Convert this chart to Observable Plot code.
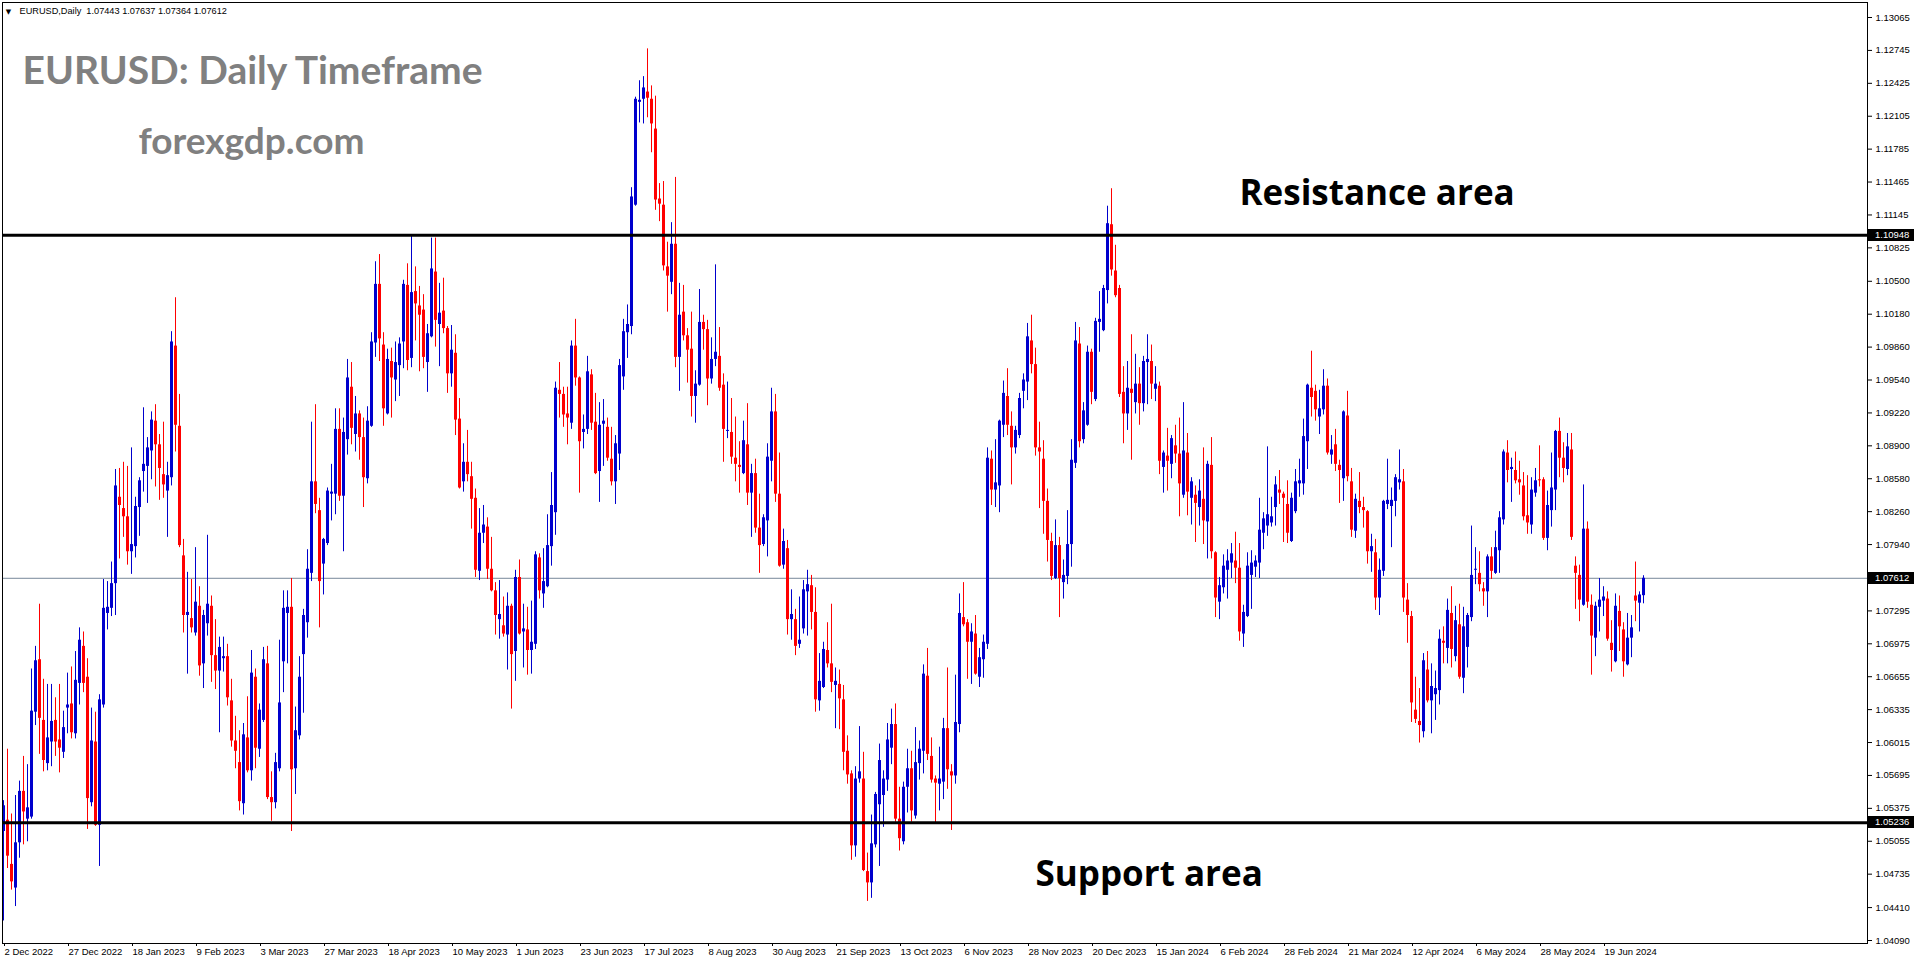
<!DOCTYPE html>
<html><head><meta charset="utf-8">
<script src="https://cdn.jsdelivr.net/npm/d3@7"></script>
<script src="https://cdn.jsdelivr.net/npm/@observablehq/plot@0.6"></script>
<style>
html,body{margin:0;padding:0;background:#fff;overflow:hidden}
#chart svg{display:block}
</style></head><body><div id="chart"></div>
<script>
// ---- data (EURUSD daily, 2 Dec 2022 .. 3 Jul 2024) ----
const open = [
1.0515,1.0526,1.0483,1.0460,1.0504,1.0554,1.0527,1.0529,1.0631,1.0682,
1.0623,1.0581,1.0602,1.0623,1.0604,1.0592,1.0635,1.0639,1.0610,1.0659,
1.0695,1.0665,1.0543,1.0602,1.0521,1.0638,1.0727,1.0732,1.0756,1.0840,
1.0829,1.0821,1.0787,1.0792,1.0830,1.0865,1.0870,1.0885,1.0914,1.0891,
1.0862,1.0846,1.0859,1.0987,1.0909,1.0783,1.0725,1.0722,1.0708,1.0734,
1.0678,1.0717,1.0734,1.0686,1.0671,1.0683,1.0685,1.0642,1.0603,1.0582,
1.0542,1.0606,1.0574,1.0665,1.0595,1.0623,1.0678,1.0548,1.0543,1.0576,
1.0680,1.0727,1.0733,1.0576,1.0608,1.0687,1.0718,1.0766,1.0855,1.0827,
1.0775,1.0795,1.0843,1.0843,1.0906,1.0841,1.0896,1.0947,1.0901,1.0921,
1.0898,1.0858,1.0909,1.0990,1.1047,1.0988,1.0921,1.0972,1.0954,1.0968,
1.0991,1.1046,1.0975,1.1040,1.1026,1.1022,1.0971,1.0996,1.1059,1.1008,
1.1021,1.1004,1.0960,1.0980,1.0916,1.0855,1.0874,1.0860,1.0839,1.0768,
1.0805,1.0811,1.0770,1.0749,1.0721,1.0715,1.0706,1.0734,1.0690,1.0762,
1.0709,1.0711,1.0691,1.0697,1.0781,1.0746,1.0753,1.0792,1.0825,1.0944,
1.0940,1.0921,1.0912,1.0987,1.0956,1.0903,1.0906,1.0959,1.0913,1.0865,
1.0911,1.0908,1.0877,1.0855,1.0882,1.0957,1.1000,1.1006,1.1124,1.1224,
1.1227,1.1234,1.1227,1.1198,1.1130,1.1124,1.1064,1.1049,1.1086,1.0976,
1.1020,1.0997,1.0984,1.0938,1.0949,1.1010,1.1003,1.0955,1.0974,1.0977,
1.0949,1.0904,1.0903,1.0878,1.0871,1.0863,1.0891,1.0844,1.0863,1.0810,
1.0794,1.0817,1.0875,1.0923,1.0843,1.0774,1.0790,1.0721,1.0721,1.0697,
1.0712,1.0748,1.0754,1.0728,1.0642,1.0655,1.0691,1.0678,1.0657,1.0658,
1.0643,1.0593,1.0571,1.0501,1.0566,1.0566,1.0476,1.0465,1.0502,1.0541,
1.0550,1.0565,1.0596,1.0619,1.0527,1.0505,1.0558,1.0576,1.0530,1.0581,
1.0593,1.0666,1.0588,1.0566,1.0561,1.0563,1.0615,1.0573,1.0569,1.0619,
1.0723,1.0718,1.0699,1.0707,1.0665,1.0682,1.0697,1.0877,1.0847,1.0851,
1.0910,1.0938,1.0909,1.0888,1.0900,1.0943,1.0952,1.0992,1.0969,1.0888,
1.0877,1.0836,1.0797,1.0761,1.0793,1.0757,1.0763,1.0794,1.0873,1.0989,
1.0896,1.0910,1.0981,1.0935,1.1010,1.1002,1.1041,1.1105,1.1060,1.1043,
1.0942,1.0921,1.0945,1.0932,1.0950,1.0931,1.0971,1.0972,1.0945,1.0948,
1.0869,1.0880,1.0872,1.0890,1.0882,1.0842,1.0883,1.0839,1.0842,1.0830,
1.0838,1.0816,1.0871,1.0786,1.0738,1.0752,1.0769,1.0776,1.0778,1.0771,
1.0707,1.0724,1.0764,1.0772,1.0776,1.0805,1.0812,1.0815,1.0830,1.0847,
1.0843,1.0833,1.0797,1.0826,1.0853,1.0853,1.0894,1.0946,1.0943,1.0918,
1.0925,1.0948,1.0881,1.0891,1.0871,1.0858,1.0919,1.0855,1.0807,1.0836,
1.0830,1.0826,1.0787,1.0786,1.0742,1.0768,1.0833,1.0831,1.0836,1.0854,
1.0855,1.0740,1.0724,1.0633,1.0622,1.0612,1.0672,1.0642,1.0648,1.0652,
1.0700,1.0693,1.0727,1.0685,1.0716,1.0664,1.0694,1.0723,1.0769,1.0766,
1.0751,1.0748,1.0782,1.0766,1.0788,1.0818,1.0883,1.0867,1.0866,1.0857,
1.0851,1.0822,1.0813,1.0844,1.0857,1.0857,1.0800,1.0827,1.0847,1.0904,
1.0878,1.0867,1.0886,1.0773,1.0764,1.0735,1.0809,1.0735,1.0703,1.0733,
1.0739,1.0741,1.0698,1.0680,1.0729,1.0711,1.0677,1.0703,1.0744,1.0737,
1.07443];
const high = [
1.0545,1.0595,1.0532,1.0550,1.0564,1.0588,1.0580,1.0673,1.0695,1.0736,
1.0663,1.0658,1.0658,1.0645,1.0658,1.0632,1.0669,1.0675,1.0690,1.0713,
1.0709,1.0683,1.0635,1.0631,1.0648,1.0760,1.0758,1.0777,1.0867,1.0868,
1.0874,1.0870,1.0888,1.0840,1.0859,1.0927,1.0898,1.0923,1.0930,1.0901,
1.0913,1.0874,1.1001,1.1034,1.0940,1.0799,1.0767,1.0760,1.0791,1.0753,
1.0730,1.0803,1.0744,1.0721,1.0704,1.0704,1.0697,1.0663,1.0627,1.0613,
1.0620,1.0646,1.0691,1.0673,1.0639,1.0694,1.0695,1.0573,1.0591,1.0701,
1.0749,1.0749,1.0761,1.0636,1.0685,1.0731,1.0789,1.0913,1.0930,1.0839,
1.0800,1.0849,1.0872,1.0926,1.0926,1.0917,1.0974,1.0971,1.0938,1.0924,
1.0917,1.0928,1.1000,1.1069,1.1076,1.1000,1.0984,1.0985,1.0991,1.0995,
1.1051,1.1067,1.1095,1.1064,1.1045,1.1037,1.1008,1.1092,1.1092,1.1048,
1.1053,1.1006,1.1007,1.0998,1.0936,1.0892,1.0905,1.0874,1.0848,1.0829,
1.0832,1.0820,1.0801,1.0757,1.0759,1.0743,1.0747,1.0736,1.0769,1.0779,
1.0736,1.0733,1.0739,1.0787,1.0785,1.0790,1.0823,1.0864,1.0952,1.0971,
1.0947,1.0947,1.0992,1.1013,1.0957,1.0920,1.0977,1.0964,1.0941,1.0932,
1.0935,1.0917,1.0908,1.0900,1.0974,1.1013,1.1027,1.1141,1.1229,1.1245,
1.1249,1.1276,1.1240,1.1230,1.1145,1.1147,1.1088,1.1107,1.1151,1.1048,
1.1046,1.1004,1.1020,1.0963,1.1042,1.1017,1.1012,1.0995,1.1066,1.1005,
1.0960,1.0952,1.0936,1.0918,1.0894,1.0914,1.0931,1.0872,1.0877,1.0843,
1.0823,1.0892,1.0946,1.0940,1.0883,1.0809,1.0798,1.0750,1.0731,1.0743,
1.0759,1.0769,1.0764,1.0752,1.0688,1.0699,1.0718,1.0736,1.0674,1.0672,
1.0657,1.0608,1.0574,1.0578,1.0617,1.0592,1.0494,1.0531,1.0553,1.0600,
1.0574,1.0620,1.0634,1.0639,1.0558,1.0563,1.0595,1.0593,1.0616,1.0603,
1.0677,1.0693,1.0606,1.0569,1.0597,1.0625,1.0674,1.0580,1.0667,1.0746,
1.0757,1.0721,1.0717,1.0725,1.0693,1.0706,1.0888,1.0885,1.0896,1.0915,
1.0953,1.0965,1.0923,1.0909,1.0941,1.0960,1.1009,1.1017,1.0985,1.0913,
1.0895,1.0848,1.0805,1.0818,1.0801,1.0779,1.0827,1.0896,1.1010,1.1005,
1.0932,1.0987,1.0984,1.1014,1.1040,1.1046,1.1123,1.1140,1.1085,1.1046,
1.0967,1.0972,1.0998,1.0979,1.0966,1.0977,1.0998,1.0988,1.0967,1.0952,
1.0885,1.0907,1.0900,1.0910,1.0917,1.0932,1.0902,1.0859,1.0851,1.0857,
1.0888,1.0875,1.0898,1.0787,1.0762,1.0784,1.0789,1.0795,1.0806,1.0795,
1.0735,1.0786,1.0788,1.0783,1.0839,1.0825,1.0889,1.0840,1.0860,1.0866,
1.0845,1.0856,1.0844,1.0867,1.0877,1.0916,1.0950,1.0982,1.0949,1.0944,
1.0964,1.0955,1.0900,1.0906,1.0876,1.0924,1.0943,1.0868,1.0843,1.0864,
1.0840,1.0827,1.0804,1.0799,1.0780,1.0837,1.0877,1.0849,1.0862,1.0886,
1.0867,1.0756,1.0729,1.0665,1.0654,1.0688,1.0690,1.0678,1.0671,1.0711,
1.0714,1.0741,1.0753,1.0734,1.0736,1.0733,1.0727,1.0812,1.0791,1.0787,
1.0757,1.0784,1.0791,1.0807,1.0826,1.0886,1.0895,1.0878,1.0884,1.0875,
1.0864,1.0861,1.0859,1.0868,1.0890,1.0859,1.0846,1.0883,1.0905,1.0917,
1.0893,1.0902,1.0902,1.0782,1.0774,1.0852,1.0816,1.0745,1.0738,1.0761,
1.0753,1.0748,1.0720,1.0746,1.0744,1.0718,1.0727,1.0725,1.0777,1.0748,
1.07637];
const low = [
1.0428,1.0479,1.0458,1.0442,1.0489,1.0502,1.0505,1.0527,1.0618,1.0590,
1.0573,1.0574,1.0578,1.0588,1.0572,1.0586,1.0610,1.0605,1.0605,1.0638,
1.0650,1.0517,1.0539,1.0520,1.0481,1.0635,1.0711,1.0724,1.0725,1.0780,
1.0801,1.0774,1.0765,1.0781,1.0802,1.0845,1.0834,1.0857,1.0850,1.0837,
1.0839,1.0801,1.0851,1.0884,1.0791,1.0708,1.0668,1.0708,1.0705,1.0666,
1.0654,1.0705,1.0660,1.0653,1.0611,1.0670,1.0637,1.0597,1.0576,1.0535,
1.0531,1.0572,1.0564,1.0576,1.0587,1.0621,1.0546,1.0525,1.0537,1.0573,
1.0650,1.0678,1.0515,1.0551,1.0604,1.0630,1.0703,1.0758,1.0824,1.0713,
1.0745,1.0793,1.0817,1.0823,1.0836,1.0787,1.0881,1.0891,1.0884,1.0876,
1.0830,1.0853,1.0908,1.0976,1.0972,1.0909,1.0920,1.0917,1.0933,1.0938,
1.0965,1.0963,1.0966,1.0992,1.0962,1.0965,1.0942,1.0995,1.0986,1.0967,
1.0999,1.0941,1.0947,1.0900,1.0848,1.0845,1.0855,1.0809,1.0762,1.0759,
1.0795,1.0760,1.0748,1.0706,1.0702,1.0704,1.0672,1.0634,1.0661,1.0706,
1.0674,1.0667,1.0668,1.0692,1.0741,1.0732,1.0752,1.0773,1.0803,1.0917,
1.0908,1.0891,1.0906,1.0948,1.0844,1.0887,1.0901,1.0905,1.0862,1.0835,
1.0870,1.0875,1.0851,1.0833,1.0866,1.0944,1.0975,1.0998,1.1123,1.1204,
1.1203,1.1209,1.1175,1.1119,1.1108,1.1060,1.1020,1.1037,1.0966,1.0943,
1.0992,1.0951,1.0918,1.0912,1.0948,1.0983,1.0929,1.0950,1.0967,1.0943,
1.0874,1.0897,1.0872,1.0855,1.0844,1.0862,1.0832,1.0801,1.0805,1.0766,
1.0792,1.0782,1.0855,1.0835,1.0772,1.0770,1.0706,1.0701,1.0686,1.0693,
1.0707,1.0705,1.0711,1.0631,1.0632,1.0654,1.0674,1.0650,1.0615,1.0614,
1.0574,1.0561,1.0487,1.0490,1.0562,1.0476,1.0447,1.0450,1.0499,1.0481,
1.0519,1.0554,1.0580,1.0524,1.0496,1.0502,1.0533,1.0524,1.0527,1.0565,
1.0571,1.0584,1.0562,1.0522,1.0535,1.0546,1.0556,1.0516,1.0561,1.0611,
1.0714,1.0663,1.0658,1.0667,1.0655,1.0664,1.0692,1.0832,1.0830,1.0825,
1.0898,1.0900,1.0852,1.0882,1.0897,1.0926,1.0934,1.0960,1.0880,1.0829,
1.0804,1.0777,1.0759,1.0760,1.0723,1.0741,1.0755,1.0772,1.0868,1.0888,
1.0892,1.0909,1.0930,1.0933,1.0981,1.1001,1.1028,1.1055,1.1034,1.0937,
1.0892,1.0905,1.0876,1.0921,1.0910,1.0923,1.0930,1.0935,1.0933,1.0862,
1.0844,1.0846,1.0858,1.0873,1.0821,1.0839,1.0822,1.0813,1.0796,1.0812,
1.0794,1.0780,1.0780,1.0723,1.0721,1.0746,1.0741,1.0761,1.0756,1.0700,
1.0694,1.0723,1.0731,1.0762,1.0761,1.0789,1.0802,1.0811,1.0812,1.0833,
1.0796,1.0795,1.0796,1.0824,1.0840,1.0842,1.0867,1.0918,1.0914,1.0901,
1.0920,1.0881,1.0872,1.0865,1.0834,1.0836,1.0855,1.0801,1.0800,1.0824,
1.0810,1.0775,1.0767,1.0730,1.0725,1.0763,1.0828,1.0791,1.0821,1.0847,
1.0728,1.0698,1.0621,1.0620,1.0601,1.0606,1.0640,1.0610,1.0623,1.0638,
1.0678,1.0678,1.0674,1.0680,1.0663,1.0649,1.0674,1.0719,1.0755,1.0748,
1.0734,1.0723,1.0760,1.0765,1.0766,1.0813,1.0854,1.0835,1.0853,1.0842,
1.0817,1.0804,1.0804,1.0840,1.0850,1.0798,1.0788,1.0811,1.0827,1.0859,
1.0854,1.0861,1.0798,1.0731,1.0719,1.0734,1.0732,1.0667,1.0685,1.0709,
1.0724,1.0700,1.0670,1.0679,1.0690,1.0665,1.0676,1.0684,1.0719,1.0709,
1.07364];
const close = [
1.0540,1.0491,1.0466,1.0504,1.0554,1.0534,1.0538,1.0632,1.0681,1.0625,
1.0584,1.0606,1.0622,1.0602,1.0596,1.0616,1.0638,1.0611,1.0662,1.0701,
1.0659,1.0547,1.0603,1.0521,1.0643,1.0732,1.0733,1.0756,1.0851,1.0832,
1.0821,1.0787,1.0794,1.0831,1.0856,1.0872,1.0888,1.0915,1.0891,1.0868,
1.0852,1.0861,1.0991,1.0910,1.0793,1.0725,1.0728,1.0713,1.0738,1.0676,
1.0725,1.0736,1.0686,1.0671,1.0694,1.0685,1.0645,1.0603,1.0593,1.0544,
1.0609,1.0574,1.0669,1.0596,1.0633,1.0682,1.0548,1.0543,1.0582,1.0640,
1.0732,1.0733,1.0575,1.0613,1.0665,1.0725,1.0770,1.0855,1.0833,1.0758,
1.0799,1.0846,1.0845,1.0906,1.0841,1.0903,1.0956,1.0907,1.0921,1.0898,
1.0859,1.0914,1.0991,1.1047,1.0994,1.0926,1.0974,1.0956,1.0971,1.0989,
1.1047,1.0973,1.1039,1.1028,1.1017,1.0976,1.0999,1.1062,1.1012,1.1019,
1.1004,1.0960,1.0983,1.0915,1.0849,1.0874,1.0862,1.0838,1.0769,1.0805,
1.0813,1.0770,1.0749,1.0725,1.0726,1.0707,1.0734,1.0687,1.0762,1.0707,
1.0712,1.0691,1.0699,1.0784,1.0749,1.0758,1.0793,1.0832,1.0946,1.0940,
1.0920,1.0917,1.0987,1.0956,1.0894,1.0906,1.0962,1.0912,1.0863,1.0910,
1.0914,1.0878,1.0855,1.0892,1.0968,1.1001,1.1008,1.1132,1.1227,1.1226,
1.1238,1.1228,1.1203,1.1129,1.1125,1.1065,1.1055,1.1086,1.0976,1.1017,
1.0997,1.0983,1.0938,1.0950,1.1010,1.1003,1.0955,1.0974,1.0981,1.0946,
1.0906,1.0905,1.0879,1.0872,1.0869,1.0895,1.0844,1.0863,1.0810,1.0793,
1.0820,1.0879,1.0923,1.0843,1.0773,1.0797,1.0721,1.0726,1.0695,1.0701,
1.0750,1.0755,1.0728,1.0643,1.0661,1.0692,1.0678,1.0660,1.0661,1.0644,
1.0592,1.0570,1.0501,1.0566,1.0573,1.0477,1.0465,1.0503,1.0551,1.0584,
1.0566,1.0604,1.0619,1.0527,1.0508,1.0558,1.0576,1.0535,1.0582,1.0595,
1.0668,1.0590,1.0565,1.0562,1.0566,1.0615,1.0575,1.0569,1.0621,1.0727,
1.0716,1.0699,1.0709,1.0668,1.0684,1.0699,1.0878,1.0847,1.0854,1.0914,
1.0941,1.0910,1.0888,1.0905,1.0936,1.0954,1.0996,1.0969,1.0888,1.0884,
1.0836,1.0798,1.0763,1.0793,1.0761,1.0764,1.0794,1.0876,1.0992,1.0894,
1.0924,1.0981,1.0942,1.1011,1.1013,1.1043,1.1106,1.1061,1.1036,1.0940,
1.0921,1.0946,1.0941,1.0950,1.0931,1.0972,1.0974,1.0950,1.0950,1.0875,
1.0883,1.0875,1.0897,1.0882,1.0853,1.0885,1.0845,1.0855,1.0834,1.0846,
1.0817,1.0872,1.0787,1.0742,1.0754,1.0773,1.0778,1.0785,1.0771,1.0709,
1.0728,1.0773,1.0776,1.0778,1.0808,1.0819,1.0823,1.0821,1.0852,1.0844,
1.0839,1.0805,1.0839,1.0855,1.0856,1.0899,1.0949,1.0937,1.0925,1.0926,
1.0948,1.0883,1.0886,1.0872,1.0866,1.0923,1.0860,1.0808,1.0838,1.0830,
1.0827,1.0787,1.0792,1.0742,1.0769,1.0836,1.0837,1.0837,1.0859,1.0857,
1.0742,1.0725,1.0640,1.0624,1.0618,1.0681,1.0642,1.0656,1.0654,1.0702,
1.0698,1.0730,1.0692,1.0720,1.0665,1.0714,1.0725,1.0764,1.0770,1.0755,
1.0748,1.0782,1.0768,1.0791,1.0820,1.0884,1.0866,1.0869,1.0856,1.0854,
1.0821,1.0815,1.0847,1.0856,1.0856,1.0800,1.0832,1.0849,1.0904,1.0878,
1.0868,1.0889,1.0801,1.0766,1.0740,1.0809,1.0738,1.0705,1.0734,1.0740,
1.0743,1.0702,1.0691,1.0734,1.0714,1.0680,1.0703,1.0713,1.0739,1.0745,
1.07612];

const dateLabels = ["2 Dec 2022","27 Dec 2022","18 Jan 2023","9 Feb 2023","3 Mar 2023","27 Mar 2023",
  "18 Apr 2023","10 May 2023","1 Jun 2023","23 Jun 2023","17 Jul 2023","8 Aug 2023","30 Aug 2023",
  "21 Sep 2023","13 Oct 2023","6 Nov 2023","28 Nov 2023","20 Dec 2023","15 Jan 2024","6 Feb 2024",
  "28 Feb 2024","21 Mar 2024","12 Apr 2024","6 May 2024","28 May 2024","19 Jun 2024"];
const barsPerDateLabel = 16;
const priceTicks = [1.13065,1.12745,1.12425,1.12105,1.11785,1.11465,1.11145,1.10825,1.10500,1.10180,
  1.09860,1.09540,1.09220,1.08900,1.08580,1.08260,1.07940,1.07295,1.06975,1.06655,1.06335,1.06015,
  1.05695,1.05375,1.05055,1.04735,1.04410,1.04090];
const resistanceLevel = 1.10948;
const supportLevel = 1.05236;
const lastPrice = 1.07612;
const headerText = "EURUSD,Daily  1.07443 1.07637 1.07364 1.07612";
const chartTitle = "EURUSD: Daily Timeframe";
const siteName = "forexgdp.com";
const resistanceText = "Resistance area";
const supportText = "Support area";

// ---- build ----
const bars = open.map((o, i) => ({i, open: o, high: high[i], low: low[i], close: close[i]}));
const upBars = bars.filter(d => d.close >= d.open);
const downBars = bars.filter(d => d.close < d.open);
const dateTickBars = dateLabels.map((_, k) => k * barsPerDateLabel);
const dateByBar = new Map(dateTickBars.map((b, k) => [b, dateLabels[k]]));

const BLUE = "#0000cd", RED = "#ff0000";
const W = 1916, H = 964;
const axisFont = "Liberation Sans, Arial, sans-serif";

function priceBoxes(index, scales, values, dimensions) {
  const g = d3.create("svg:g").attr("text-anchor", "start");
  const x0 = dimensions.width - dimensions.marginRight;
  for (const v of [resistanceLevel, lastPrice, supportLevel]) {
    const y = Math.round(scales.y(v));
    g.append("rect").attr("x", x0 + 1).attr("y", y - 6).attr("width", 46).attr("height", 12).attr("fill", "#000");
    g.append("text").attr("x", x0 + 8).attr("y", y).attr("dy", "0.35em").attr("text-anchor", "start")
      .attr("fill", "#fff").attr("font-size", 9.5).attr("font-family", axisFont).text(v.toFixed(5));
  }
  return g.node();
}

const chart = Plot.plot({
  width: W, height: H,
  marginLeft: 2, marginTop: 2, marginRight: 49, marginBottom: 21,
  x: {domain: [0, 410], range: [3, 1643]},
  y: {domain: [1.04090, 1.13065], range: [940, 17]},
  style: {background: "#fff", color: "#000", fontFamily: axisFont, fontSize: "9.5px", overflow: "visible"},
  marks: [
    Plot.ruleY([lastPrice], {stroke: "#778899", strokeWidth: 1}),
    Plot.ruleX(upBars, {x: "i", y1: "low", y2: "high", stroke: BLUE, strokeWidth: 1}),
    Plot.ruleX(downBars, {x: "i", y1: "low", y2: "high", stroke: RED, strokeWidth: 1}),
    Plot.ruleX(upBars, {x: "i", y1: "open", y2: "close", stroke: BLUE, strokeWidth: 3}),
    Plot.ruleX(downBars, {x: "i", y1: "open", y2: "close", stroke: RED, strokeWidth: 3}),
    Plot.ruleY([resistanceLevel, supportLevel], {stroke: "#000", strokeWidth: 3}),
    Plot.frame({stroke: "#000"}),
    Plot.axisY({anchor: "right", ticks: priceTicks, tickSize: 4, tickPadding: 4,
      tickFormat: d => d.toFixed(5), fontSize: 9.5, fill: "#000", stroke: "#000", label: null}),
    Plot.axisX({anchor: "bottom", ticks: dateTickBars, tickSize: 3, tickPadding: 2,
      tickFormat: b => dateByBar.get(b), textAnchor: "start", dx: 1, fontSize: 9.5, label: null}),
    priceBoxes,
    Plot.text(["\u25BC"], {frameAnchor: "top-left", dx: 6, dy: 9, textAnchor: "middle", lineAnchor: "middle",
      fontSize: 7, fill: "#000", fontFamily: "DejaVu Sans"}),
    Plot.text([headerText], {frameAnchor: "top-left", dx: 17, dy: 9, textAnchor: "start", lineAnchor: "middle",
      fontSize: 9.2, fill: "#000", fontFamily: axisFont}),
    Plot.text([chartTitle], {frameAnchor: "top-left", dx: 20, dy: 81, textAnchor: "start", lineAnchor: "bottom",
      fontSize: 39, fontWeight: "bold", fill: "#808080", fontFamily: "Lato"}),
    Plot.text([siteName], {frameAnchor: "top-left", dx: 136, dy: 151, textAnchor: "start", lineAnchor: "bottom",
      fontSize: 37, fontWeight: "bold", fill: "#808080", fontFamily: "Lato"}),
    Plot.text([resistanceText], {frameAnchor: "top-left", dx: 1237, dy: 202, textAnchor: "start", lineAnchor: "bottom",
      fontSize: 35, fontWeight: "bold", fill: "#000", fontFamily: "Open Sans"}),
    Plot.text([supportText], {frameAnchor: "top-left", dx: 1033, dy: 883, textAnchor: "start", lineAnchor: "bottom",
      fontSize: 35, fontWeight: "bold", fill: "#000", fontFamily: "Open Sans"})
  ]
});
document.getElementById("chart").appendChild(chart);
</script>
</body></html>
